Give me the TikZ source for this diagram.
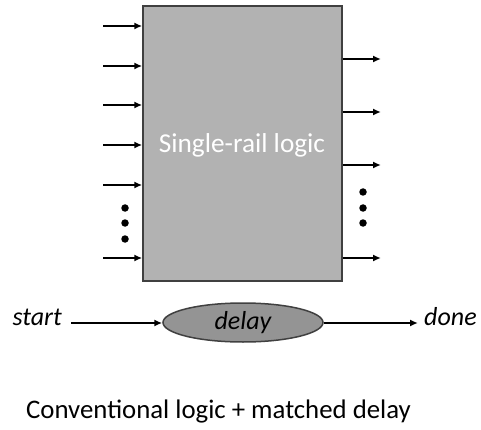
\documentclass[tikz,border=0pt]{standalone}
\usepackage{fontspec}
\setmainfont{Carlito}
\usetikzlibrary{arrows.meta,shapes.geometric}
\begin{document}
\begin{tikzpicture}[x=1pt,y=-1pt,
  wire/.style={line width=1.8pt,-{Latex[length=8pt,width=7pt]}},
  blk/.style={draw=black!75,line width=1.5pt,fill=black!30,rectangle,inner sep=0pt},
  dot/.style={circle,fill=black,inner sep=0pt,minimum size=7.5pt},
  lbl/.style={font=\fontsize{26}{30}\selectfont,inner sep=0pt},
  ital/.style={font=\fontsize{26}{30}\selectfont\itshape,inner sep=0pt}]
\useasboundingbox (0,0) rectangle (481,430);

% combinational block
\node[blk,minimum width=199pt,minimum height=275pt] (logic) at (242.5,143.5) {};
\node[lbl,font=\fontsize{27.3}{32}\selectfont,text=white] (title) at (242,145) {Single-rail logic};

% inputs
\foreach \y [count=\i] in {26,66,105,145,185,258} {
  \coordinate (in\i) at (103,\y);
  \draw[wire] (in\i) -- (in\i -| logic.west);
}
\foreach \y [count=\i] in {208,223,239} \node[dot] (ldot\i) at (125,\y) {};

% outputs
\foreach \y [count=\i] in {59,112,165,258} {
  \coordinate (out\i) at (381,\y);
  \draw[wire] (out\i -| logic.east) -- (out\i);
}
\foreach \y [count=\i] in {192,208,223} \node[dot] (rdot\i) at (363,\y) {};

% matched delay line
\node[ellipse,draw=black!75,line width=1.5pt,fill=black!42,minimum width=160pt,minimum height=39pt,ital] (delay) at (243,322.5) {delay};
\node[ital,anchor=base east] (start) at (62,325) {start};
\node[ital,anchor=base west] (done) at (424,325) {done};
\coordinate (s0) at (71,323);
\coordinate (d0) at (418,323);
\draw[wire] (s0) -- (s0 -| delay.west);
\draw[wire] (d0 -| delay.east) -- (d0);

% caption
\node[lbl,font=\fontsize{26.8}{31}\selectfont,anchor=base west] (caption) at (26,418) {Conventional logic + matched delay};
\end{tikzpicture}
\end{document}
